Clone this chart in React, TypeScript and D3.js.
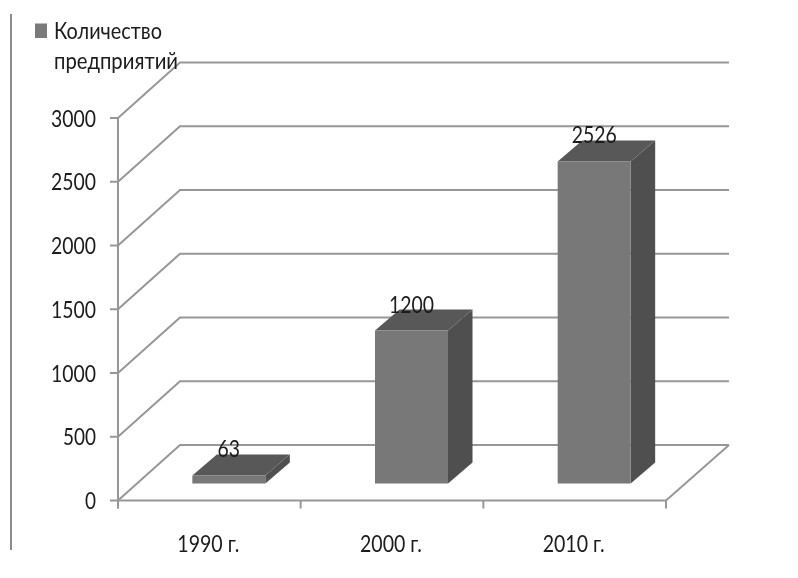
import React from "react";
import * as d3 from "d3";

const categories = ["1990 г.", "2000 г.", "2010 г."];
const values = [63, 1200, 2526];
const valueTicks = [0, 500, 1000, 1500, 2000, 2500, 3000];
const legendLines = ["Количество", "предприятий"];

const FONT = "Lato, 'Open Sans', sans-serif";
const LINE = "#979797";

export default function App() {
  const y = d3.scaleLinear().domain([0, 3000]).range([500.5, 118]);
  const x = d3.scaleBand<string>().domain(categories).range([118, 666]);
  const wallDx = 62, wallDy = -55.5;
  const barFrontDx = 19.5, barFrontDy = -17;
  const barDepthDx = 24.5, barDepthDy = -21;
  const barW = 73;
  const poly = (p: [number, number][]) => d3.line()(p) + "Z";
  const boundaries = [118, ...categories.map((c) => (x(c) as number) + x.bandwidth())];
  const tw: Record<string, number> = { "0": 11, "500": 33, "1000": 45, "1500": 45, "2000": 45, "2500": 45, "3000": 45 };
  return (
    <svg width={798} height={578} style={{ position: "absolute", left: 0, top: 0, background: "#fff" }}>
      <defs>
        <filter id="soft" x="-5%" y="-5%" width="110%" height="110%">
          <feGaussianBlur stdDeviation="0.55" />
        </filter>
      </defs>
      <g filter="url(#soft)">
        <line x1={11} x2={11} y1={14} y2={550} stroke="#8c8c8c" strokeWidth={2} />
        {/* wall gridlines */}
        {valueTicks.map((t) => (
          <g key={t} fill="none" stroke={LINE} strokeWidth={2}>
            <path d={d3.line()([[118, y(t)], [118 + wallDx, y(t) + wallDy], [729, y(t) + wallDy]]) as string} />
            <line x1={110} x2={118} y1={y(t)} y2={y(t)} />
          </g>
        ))}
        {/* floor and axes */}
        <g fill="none" stroke={LINE} strokeWidth={2}>
          <line x1={118} x2={118} y1={y(3000)} y2={y(0) + 8} />
          <line x1={118} x2={666} y1={y(0)} y2={y(0)} />
          <line x1={666} x2={729} y1={y(0)} y2={y(0) + wallDy} />
          {boundaries.map((b) => (
            <line key={b} x1={b} x2={b} y1={y(0)} y2={y(0) + 8} />
          ))}
        </g>
        {/* bars */}
        {categories.map((c, i) => {
          const x0 = (x(c) as number) + x.bandwidth() / 2 + barFrontDx - barW / 2;
          const x1 = x0 + barW;
          const base = y(0) + barFrontDy;
          const top = base - (y(0) - y(values[i]));
          return (
            <g key={c}>
              <path d={poly([[x1, base], [x1 + barDepthDx, base + barDepthDy], [x1 + barDepthDx, top + barDepthDy], [x1, top]])} fill="#4f4f4f" />
              <path d={poly([[x0, top], [x1, top], [x1 + barDepthDx, top + barDepthDy], [x0 + barDepthDx, top + barDepthDy]])} fill="#595959" />
              <rect x={x0} y={top} width={barW} height={base - top} fill="#787878" />
            </g>
          );
        })}
        <g fontFamily={FONT} fontSize={24} fill="#1a1a1a">
          {/* value labels */}
          {categories.map((c, i) => {
            const base = y(0) + barFrontDy;
            const top = base - (y(0) - y(values[i]));
            const cx = (x(c) as number) + x.bandwidth() / 2 + barFrontDx;
            const len = String(values[i]).length * 11.25;
            return (
              <text key={c} x={cx} y={top - 18} textAnchor="middle" textLength={len} lengthAdjust="spacingAndGlyphs">
                {values[i]}
              </text>
            );
          })}
          {/* y tick labels */}
          {valueTicks.map((t) => (
            <text key={t} x={96} y={y(t) + 8.5} textAnchor="end" textLength={tw[String(t)]} lengthAdjust="spacingAndGlyphs">
              {t}
            </text>
          ))}
          {/* category labels */}
          {categories.map((c) => (
            <text key={c} x={(x(c) as number) + x.bandwidth() / 2 - 1} y={552} textAnchor="middle" textLength={62} lengthAdjust="spacingAndGlyphs">
              {c}
            </text>
          ))}
          {/* legend */}
          <rect x={35} y={23.5} width={12} height={14.5} fill="#7a7a7a" />
          <text x={54} y={38.5} textLength={108} lengthAdjust="spacingAndGlyphs">{legendLines[0]}</text>
          <text x={54} y={69} textLength={124} lengthAdjust="spacingAndGlyphs">{legendLines[1]}</text>
        </g>
      </g>
    </svg>
  );
}
